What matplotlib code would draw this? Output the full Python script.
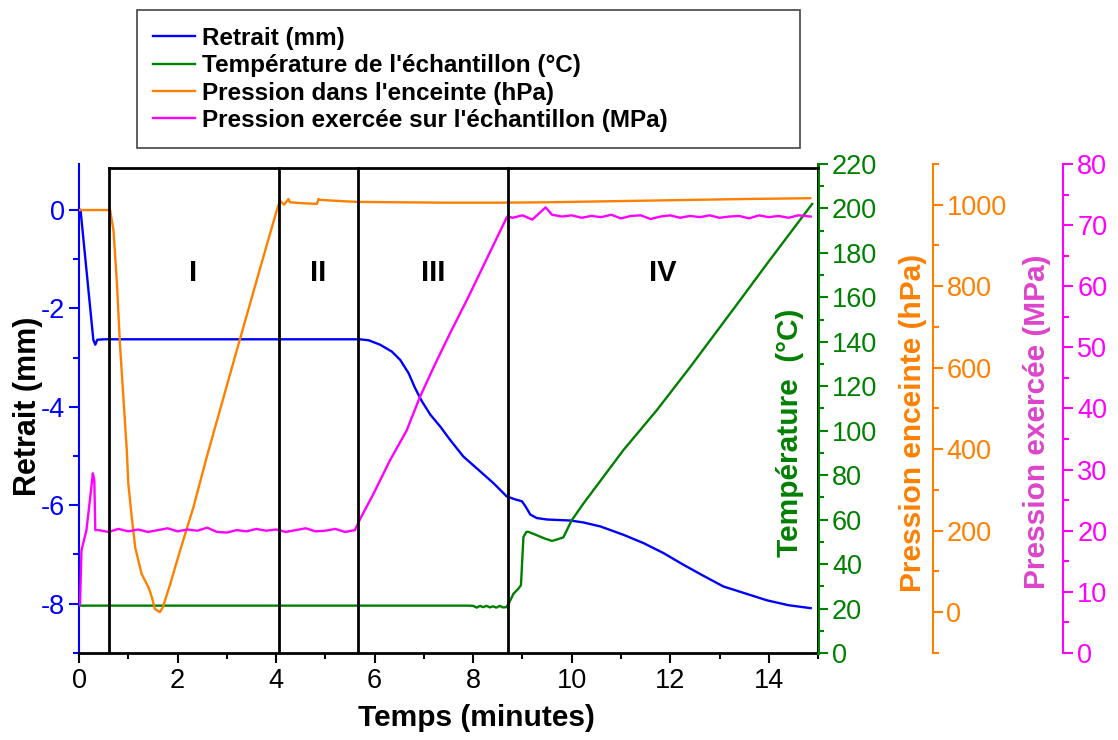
import numpy as np
import matplotlib
matplotlib.use("Agg")
import matplotlib.pyplot as plt
from matplotlib.ticker import MultipleLocator

plt.rcParams['font.family'] = ['Liberation Sans', 'DejaVu Sans']
plt.rcParams['axes.unicode_minus'] = False

# --- data (time in minutes) ---
t_retrait = [0, 0.03, 0.29, 0.33, 0.37, 0.5, 1, 2, 3, 4, 5, 5.7, 5.88, 6.11, 6.35,
             6.52, 6.69, 6.82, 6.96, 7.13, 7.33, 7.53, 7.80, 8.14, 8.41, 8.68, 8.85,
             8.99, 9.06, 9.16, 9.29, 9.5, 9.97, 10.24, 10.58, 11.05, 11.46, 11.86,
             12.27, 12.65, 13.08, 13.49, 13.96, 14.4, 14.85]
retrait = [0, 0, -2.64, -2.74, -2.64, -2.63, -2.63, -2.63, -2.63, -2.63, -2.63, -2.63,
           -2.65, -2.74, -2.88, -3.05, -3.32, -3.62, -3.89, -4.16, -4.40, -4.67, -5.01,
           -5.31, -5.55, -5.82, -5.88, -5.92, -6.02, -6.19, -6.26, -6.29, -6.31, -6.35,
           -6.43, -6.60, -6.77, -6.97, -7.21, -7.42, -7.65, -7.78, -7.93, -8.03, -8.09]

t_temp = [0, 1, 2, 3, 4, 5, 6, 7, 7.9, 8.0, 8.07, 8.14, 8.2, 8.27, 8.34, 8.4, 8.47,
          8.54, 8.6, 8.67, 8.72, 8.82, 8.92, 8.97, 9.02, 9.08, 9.12, 9.29, 9.45, 9.6,
          9.72, 9.83, 10.0, 10.24, 11.05, 11.73, 12.41, 13.42, 13.96, 14.64, 14.88]
temp = [21.3, 21.3, 21.3, 21.3, 21.3, 21.3, 21.3, 21.3, 21.3, 21.2, 20.4, 21.2, 20.6,
        21.2, 20.5, 21.0, 20.4, 21.2, 20.5, 20.6, 22.2, 26.7, 29.0, 30.5, 52.2, 54.5,
        54.5, 53.0, 51.5, 50.4, 51.2, 52.0, 59.7, 67.3, 91.3, 109.3, 128.8, 158.8,
        175.0, 195.0, 202.0]

t_enceinte = [0, 0.3, 0.63, 0.70, 0.77, 0.83, 0.97, 1.0, 1.07, 1.14, 1.27, 1.41, 1.48,
              1.54, 1.64, 1.70, 1.85, 2.05, 2.32, 2.59, 3.2, 3.68, 4.01, 4.08, 4.16,
              4.25, 4.28, 4.5, 4.83, 4.86, 4.89, 5.3, 5.64, 6.5, 7.5, 8.5, 9.5, 10.5,
              11.5, 12.5, 13.5, 14.84]
enceinte = [987, 987, 987, 936, 805, 658, 396, 315, 233, 159, 94, 61, 36, 8, 0, 12,
            69, 151, 257, 380, 642, 846, 985, 1010, 1000, 1014, 1006, 1004, 1002, 1014,
            1012, 1009, 1007, 1006, 1005, 1005, 1006, 1008, 1010, 1012, 1014, 1016]

t_exercee = [0.01, 0.02, 0.05, 0.15, 0.22, 0.28, 0.31, 0.33,
             0.4, 0.6, 0.8, 1.0, 1.2, 1.4, 1.6, 1.8, 2.0, 2.2, 2.4, 2.6, 2.8, 3.0,
             3.2, 3.4, 3.6, 3.8, 4.0, 4.2, 4.4, 4.6, 4.8, 5.0, 5.2, 5.4, 5.6,
             5.71, 5.98, 6.31, 6.65, 6.92, 7.2, 7.53, 7.9, 8.3, 8.69,
             8.8, 9.0, 9.2, 9.47, 9.6, 9.8, 10.0, 10.2, 10.4, 10.6, 10.8, 11.0, 11.2,
             11.4, 11.6, 11.8, 12.0, 12.2, 12.4, 12.6, 12.8, 13.0, 13.2, 13.4, 13.6,
             13.8, 14.0, 14.2, 14.4, 14.6, 14.85]
exercee = [7.9, 8.1, 16.8, 20.1, 25.0, 29.4, 28.3, 20.1,
           20.1, 19.8, 20.3, 19.9, 20.2, 19.8, 20.1, 20.4, 19.9, 20.2, 20.0, 20.5,
           19.8, 19.7, 20.1, 19.9, 20.3, 20.0, 20.2, 19.8, 20.1, 20.4, 19.9, 20.0,
           20.3, 19.8, 20.1,
           22.0, 26.1, 31.5, 36.4, 41.9, 46.8, 52.3, 58.2, 64.9, 71.4,
           71.2, 71.6, 70.9, 72.9, 71.7, 71.4, 71.6, 71.2, 71.5, 71.3, 71.7, 71.1,
           71.5, 71.6, 71.0, 71.4, 71.6, 71.2, 71.5, 71.3, 71.6, 71.2, 71.4, 71.5,
           71.1, 71.6, 71.3, 71.5, 71.2, 71.6, 71.4]

phase_bounds = [0.6, 4.05, 5.67, 8.7]
phase_labels = ['I', 'II', 'III', 'IV']
phase_label_x = [2.31, 4.85, 7.19, 11.84]

c_blue = '#0000ff'
c_green = '#008000'
c_orange = '#ff8000'
c_magenta = '#ff00ff'

fig = plt.figure(figsize=(11.18, 7.4), dpi=100)
ax = fig.add_axes([0.0707, 0.1176, 0.661, 0.6608])
ax2 = ax.twinx()
ax3 = ax.twinx()
ax4 = ax.twinx()

l1, = ax.plot(t_retrait, retrait, color=c_blue, lw=1.7)
l2, = ax2.plot(t_temp, temp, color=c_green, lw=1.7)
l3, = ax3.plot(t_enceinte, enceinte, color=c_orange, lw=1.7)
l4, = ax4.plot(t_exercee, exercee, color=c_magenta, lw=1.7)

ax.set_xlim(0, 15)
ax.set_ylim(-9, 0.93)
ax2.set_ylim(0, 220)
ax3.set_ylim(-100, 1100)
ax4.set_ylim(0, 80)

# spines
for a in (ax, ax2, ax3, ax4):
    for s in a.spines.values():
        s.set_visible(False)
ax.spines['left'].set_visible(True)
ax.spines['left'].set_color(c_blue)
ax.spines['left'].set_linewidth(1.5)
ax.spines['bottom'].set_visible(True)
ax.spines['bottom'].set_linewidth(2)
ax2.spines['right'].set_visible(True)
ax2.spines['right'].set_color(c_green)
ax2.spines['right'].set_linewidth(2.2)
ax3.spines['right'].set_visible(True)
ax3.spines['right'].set_position(('axes', 1.155))
ax3.spines['right'].set_color(c_orange)
ax3.spines['right'].set_linewidth(1.5)
ax4.spines['right'].set_visible(True)
ax4.spines['right'].set_position(('axes', 1.332))
ax4.spines['right'].set_color(c_magenta)
ax4.spines['right'].set_linewidth(1.5)

# ticks
ax.xaxis.set_major_locator(MultipleLocator(2))
ax.xaxis.set_minor_locator(MultipleLocator(1))
ax.yaxis.set_major_locator(MultipleLocator(2))
ax.yaxis.set_minor_locator(MultipleLocator(1))
ax2.yaxis.set_major_locator(MultipleLocator(20))
ax2.yaxis.set_minor_locator(MultipleLocator(10))
ax3.yaxis.set_major_locator(MultipleLocator(200))
ax3.yaxis.set_minor_locator(MultipleLocator(100))
ax4.yaxis.set_major_locator(MultipleLocator(10))
ax4.yaxis.set_minor_locator(MultipleLocator(5))

ax.tick_params(axis='x', which='major', length=7, width=1.5, labelsize=19.5, pad=4)
ax.tick_params(axis='x', which='minor', length=4, width=1.5)
for a, c in ((ax, c_blue), (ax2, c_green), (ax3, c_orange), (ax4, c_magenta)):
    a.tick_params(axis='y', which='major', length=7, width=1.5, color=c,
                  labelcolor=c, labelsize=19.5, pad=3)
    a.tick_params(axis='y', which='minor', length=4, width=1.5, color=c)

# axis labels
ax.text(0.538, -0.133, 'Temps (minutes)', transform=ax.transAxes, ha='center',
        va='center', fontsize=21.5, fontweight='bold')
ax.text(-0.069, 0.505, 'Retrait (mm)', transform=ax.transAxes, ha='center',
        va='center', rotation=90, fontsize=22, fontweight='bold')
ax.text(0.962, 0.45, 'Température  (°C)', transform=ax.transAxes, ha='center',
        va='center', rotation=90, fontsize=21.5, fontweight='bold', color=c_green)
ax.text(1.129, 0.47, 'Pression enceinte (hPa)', transform=ax.transAxes, ha='center',
        va='center', rotation=90, fontsize=21.5, fontweight='bold', color=c_orange)
ax.text(1.296, 0.472, 'Pression exercée (MPa)', transform=ax.transAxes, ha='center',
        va='center', rotation=90, fontsize=21.5, fontweight='bold', color='#dd44cc')

# phase boxes
for xb in phase_bounds:
    ax4.axvline(xb, ymin=0, ymax=0.992, color='black', lw=2, zorder=10)
ax4.axvline(15, ymin=0, ymax=0.992, color='black', lw=2, zorder=10)
ax4.plot([phase_bounds[0], 15], [0.992, 0.992], color='black', lw=2,
         transform=ax4.get_xaxis_transform(), clip_on=False, zorder=10)
for xl, lab in zip(phase_label_x, phase_labels):
    ax4.text(xl, 0.777, lab, transform=ax4.get_xaxis_transform(), ha='center',
             va='center', fontsize=21, fontweight='bold')

leg = fig.legend([l1, l2, l3, l4],
                 ['Retrait (mm)', "Température de l'échantillon (°C)",
                  "Pression dans l'enceinte (hPa)",
                  "Pression exercée sur l'échantillon (MPa)"],
                 loc='upper left', bbox_to_anchor=(0.1225, 0.8081, 0.593, 0.178),
                 mode='expand', borderaxespad=0, fancybox=False, framealpha=1,
                 edgecolor='#444444', prop={'weight': 'bold', 'size': 17.5},
                 handlelength=1.7, handletextpad=0.3, labelspacing=0.18,
                 borderpad=0.68)
leg.get_frame().set_linewidth(1.2)

fig.savefig('out.png', dpi=100)
